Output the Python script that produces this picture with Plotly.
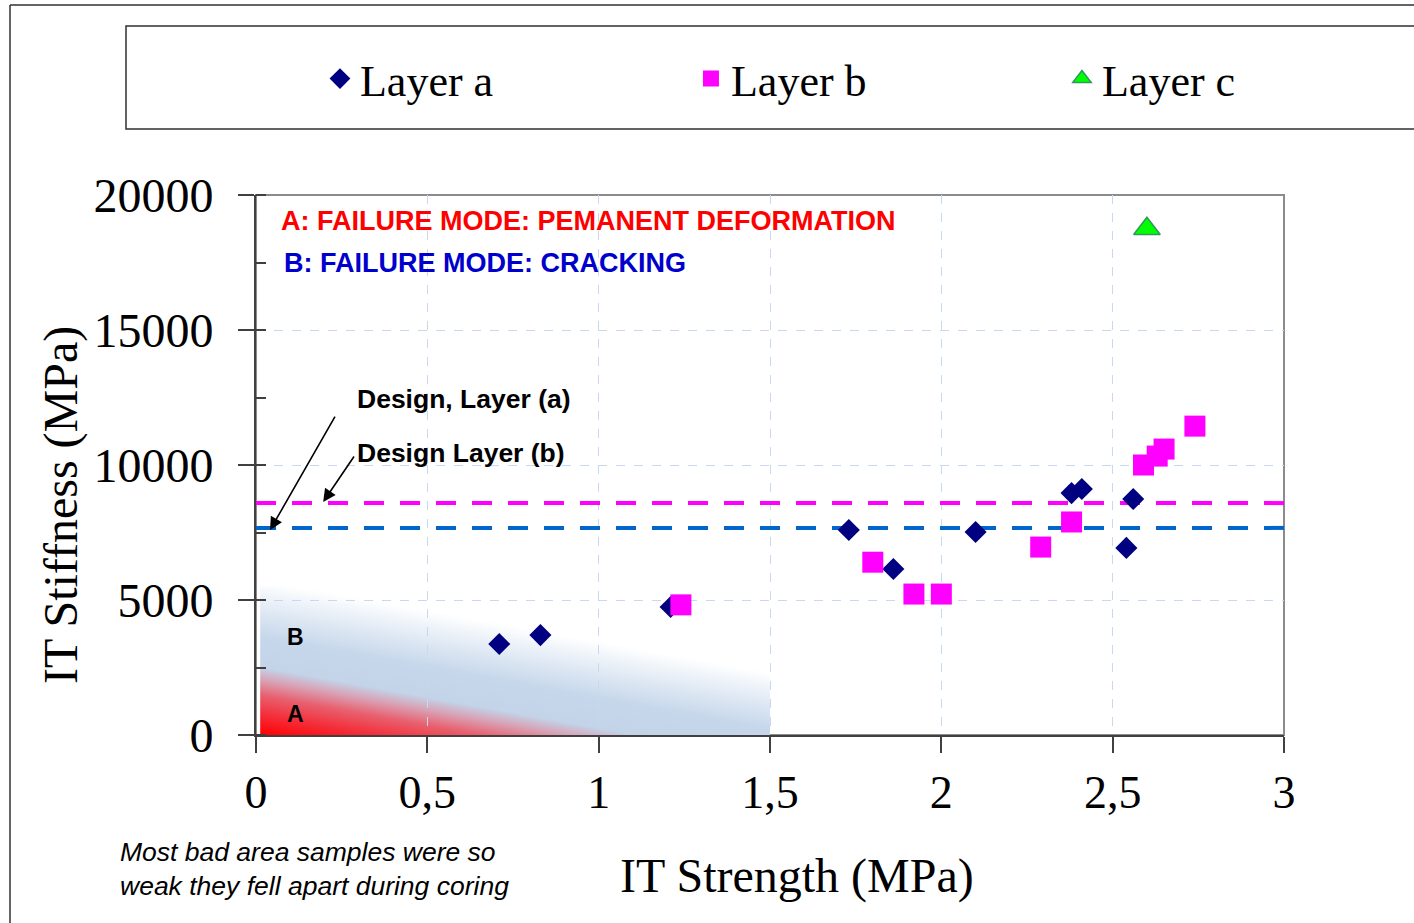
import base64
import plotly.graph_objects as go

# ---------------- data ----------------
layer_a_x = [0.71, 0.83, 1.21, 1.73, 1.86, 2.10, 2.38, 2.41, 2.56, 2.54]
layer_a_y = [3370, 3700, 4740, 7590, 6150, 7520, 8960, 9110, 8740, 6930]

layer_b_x = [1.24, 1.80, 1.92, 2.00, 2.29, 2.38, 2.59, 2.63, 2.65, 2.74]
layer_b_y = [4820, 6400, 5220, 5220, 6960, 7890, 10000, 10330, 10590, 11440]

layer_c_x = [2.60]
layer_c_y = [18750]

design_x = [0, 3]
design_a = 7670
design_b = 8590

x_tickvals = [0, 0.5, 1, 1.5, 2, 2.5, 3]
x_ticktext = ["0", "0,5", "1", "1,5", "2", "2,5", "3"]
y_tickvals = [0, 5000, 10000, 15000, 20000]
y_ticktext = ["0", "5000", "10000", "15000", "20000"]

# failure-zone background (decoration) extent in data units
zone_x_max = 1.5
zone_y_max = 5500

SERIF = "Times New Roman, Liberation Serif, serif"
SANS = "Arial, Liberation Sans, sans-serif"

# ---- gradient image for the failure zones (A red, B blue) ----
W, H = 514.0, 148.5
s = 0.18
zmax = H + s * W
k = zmax / (1 + s * s)
stops = [(0, "#ff0000"), (20, "#f42c38"), (40, "#e8606e"), (55, "#d9a0b3"),
         (68, "#c3d3e8"), (98, "#c6d7eb"), (125, "#e0e9f4"), (155, "#ffffff"),
         (zmax, "#ffffff")]
stop_xml = "".join(
    f"<stop offset='{z / zmax:.4f}' stop-color='{c}'/>" for z, c in stops)
svg = (
    f"<svg xmlns='http://www.w3.org/2000/svg' width='{W}' height='{H}' "
    f"viewBox='0 0 {W} {H}' preserveAspectRatio='none'>"
    f"<defs><linearGradient id='g' gradientUnits='userSpaceOnUse' "
    f"x1='0' y1='{H}' x2='{k * s:.2f}' y2='{H - k:.2f}'>{stop_xml}"
    f"</linearGradient></defs>"
    f"<rect x='0' y='0' width='{W}' height='{H}' fill='url(#g)'/></svg>"
)
uri = "data:image/svg+xml;base64," + base64.b64encode(svg.encode()).decode()

fig = go.Figure()

# design lines
fig.add_trace(go.Scatter(
    x=design_x, y=[design_b] * 2, mode="lines", showlegend=False,
    line=dict(color="#ff00ff", width=4, dash="20px,16px"), hoverinfo="skip"))
fig.add_trace(go.Scatter(
    x=design_x, y=[design_a] * 2, mode="lines", showlegend=False,
    line=dict(color="#0066cc", width=4, dash="20px,16px"), hoverinfo="skip"))

fig.add_trace(go.Scatter(
    x=layer_a_x, y=layer_a_y, mode="markers", name="Layer a",
    marker=dict(symbol="diamond", size=17, color="#000080",
                line=dict(width=0))))
fig.add_trace(go.Scatter(
    x=layer_b_x, y=layer_b_y, mode="markers", name="Layer b",
    marker=dict(symbol="square", size=21, color="#ff00ff",
                line=dict(width=0))))
fig.add_trace(go.Scatter(
    x=layer_c_x, y=layer_c_y, mode="markers", name="Layer c",
    marker=dict(symbol="triangle-up", size=23, color="#00ff00",
                line=dict(width=1.5, color="#2e9a5a"))))

L, R, T, B = 256, 130, 195, 188
PW, PH = 1414 - L - R, 923 - T - B


def px(xp):
    return (xp - L) / PW


def py(yp):
    return (T + PH - yp) / PH


fig.update_layout(
    width=1414, height=923,
    margin=dict(l=L, r=R, t=T, b=B, pad=0),
    paper_bgcolor="white", plot_bgcolor="white",
    showlegend=True,
    legend=dict(orientation="h", x=-0.001, y=py(79), xanchor="left",
                yanchor="middle", font=dict(family=SERIF, size=44,
                                            color="black"),
                bgcolor="rgba(0,0,0,0)", borderwidth=0,
                indentation=65,
                entrywidth=261, entrywidthmode="pixels"),
    xaxis=dict(range=[0, 3], tickvals=x_tickvals, ticktext=x_ticktext,
               showgrid=True, gridcolor="#c6d9f1", griddash="dash",
               gridwidth=1, zeroline=False,
               showline=True, linecolor="#404040", linewidth=2,
               ticks="outside", ticklen=16, tickwidth=1.5,
               tickcolor="#404040", ticklabelstandoff=0,
               tickfont=dict(family=SERIF, size=46, color="black")),
    yaxis=dict(range=[0, 20000], tickvals=y_tickvals, ticktext=y_ticktext,
               showgrid=True, gridcolor="#c6d9f1", griddash="dash",
               gridwidth=1, zeroline=False,
               showline=True, linecolor="#404040", linewidth=2,
               ticks="outside", ticklen=16, tickwidth=1.5,
               tickcolor="#404040", ticklabelstandoff=15,
               tickfont=dict(family=SERIF, size=48, color="black"),
               minor=dict(dtick=2500, ticks="inside", ticklen=10,
                          tickwidth=1.5, tickcolor="#404040",
                          showgrid=False)),
    images=[dict(source=uri, xref="x", yref="y", x=0.012, y=zone_y_max,
                 sizex=zone_x_max - 0.012, sizey=zone_y_max,
                 sizing="stretch", xanchor="left", yanchor="top",
                 layer="below")],
)

shapes = [
    # plot frame (top/right grey)
    dict(type="rect", xref="paper", yref="paper", x0=0, x1=1, y0=0, y1=1,
         line=dict(color="#8c8c8c", width=2), layer="below"),
    # outer chart border
    dict(type="line", xref="paper", yref="paper", x0=px(10), x1=px(1500),
         y0=py(5), y1=py(5), line=dict(color="#303030", width=1.5)),
    dict(type="line", xref="paper", yref="paper", x0=px(10), x1=px(10),
         y0=py(5), y1=py(1000), line=dict(color="#303030", width=1.5)),
    # legend box
    dict(type="rect", xref="paper", yref="paper", x0=px(126), x1=px(1500),
         y0=py(129), y1=py(26), line=dict(color="#303030", width=1.5)),
]
fig.update_layout(shapes=shapes)

ann = [
    dict(text="<b>A: FAILURE MODE: PEMANENT DEFORMATION</b>", x=0.066,
         y=19040, xref="x", yref="y", xanchor="left", yanchor="middle",
         showarrow=False, font=dict(family=SANS, size=27, color="#ff0000")),
    dict(text="<b>B: FAILURE MODE: CRACKING</b>", x=0.075, y=17480,
         xref="x", yref="y", xanchor="left", yanchor="middle",
         showarrow=False, font=dict(family=SANS, size=27, color="#0000cc")),
    dict(text="<b>Design, Layer (a)</b>", x=0.288, y=12440, xref="x",
         yref="y", xanchor="left", yanchor="middle", showarrow=False,
         font=dict(family=SANS, size=26.5, color="black")),
    dict(text="<b>Design Layer (b)</b>", x=0.288, y=10440, xref="x",
         yref="y", xanchor="left", yanchor="middle", showarrow=False,
         font=dict(family=SANS, size=26.5, color="black")),
    dict(text="<b>B</b>", x=0.114, y=3630, xref="x", yref="y",
         showarrow=False, font=dict(family=SANS, size=23, color="black")),
    dict(text="<b>A</b>", x=0.114, y=780, xref="x", yref="y",
         showarrow=False, font=dict(family=SANS, size=23, color="black")),
    # arrows
    dict(text="", x=0.041, y=7590, ax=0.233, ay=11850, xref="x", yref="y",
         axref="x", ayref="y", showarrow=True, arrowhead=2, arrowsize=1.6,
         arrowwidth=1.6, arrowcolor="black"),
    dict(text="", x=0.196, y=8630, ax=0.289, ay=10370, xref="x", yref="y",
         axref="x", ayref="y", showarrow=True, arrowhead=2, arrowsize=1.6,
         arrowwidth=1.6, arrowcolor="black"),
    # axis titles
    dict(text="IT Stiffness (MPa)", x=px(61), y=py(505), xref="paper",
         yref="paper", xanchor="center", yanchor="middle", textangle=-90,
         showarrow=False, font=dict(family=SERIF, size=48, color="black")),
    dict(text="IT Strength (MPa)", x=px(797), y=py(876), xref="paper",
         yref="paper", xanchor="center", yanchor="middle", showarrow=False,
         font=dict(family=SERIF, size=48, color="black")),
    # note
    dict(text="<i>Most bad area samples were so<br>weak they fell apart during coring</i>",
         x=px(118), y=py(869), xref="paper", yref="paper", xanchor="left",
         yanchor="middle", align="left", showarrow=False,
         font=dict(family=SANS, size=26.5, color="black")),
]
fig.update_layout(annotations=ann)

fig.write_html("out.html")
